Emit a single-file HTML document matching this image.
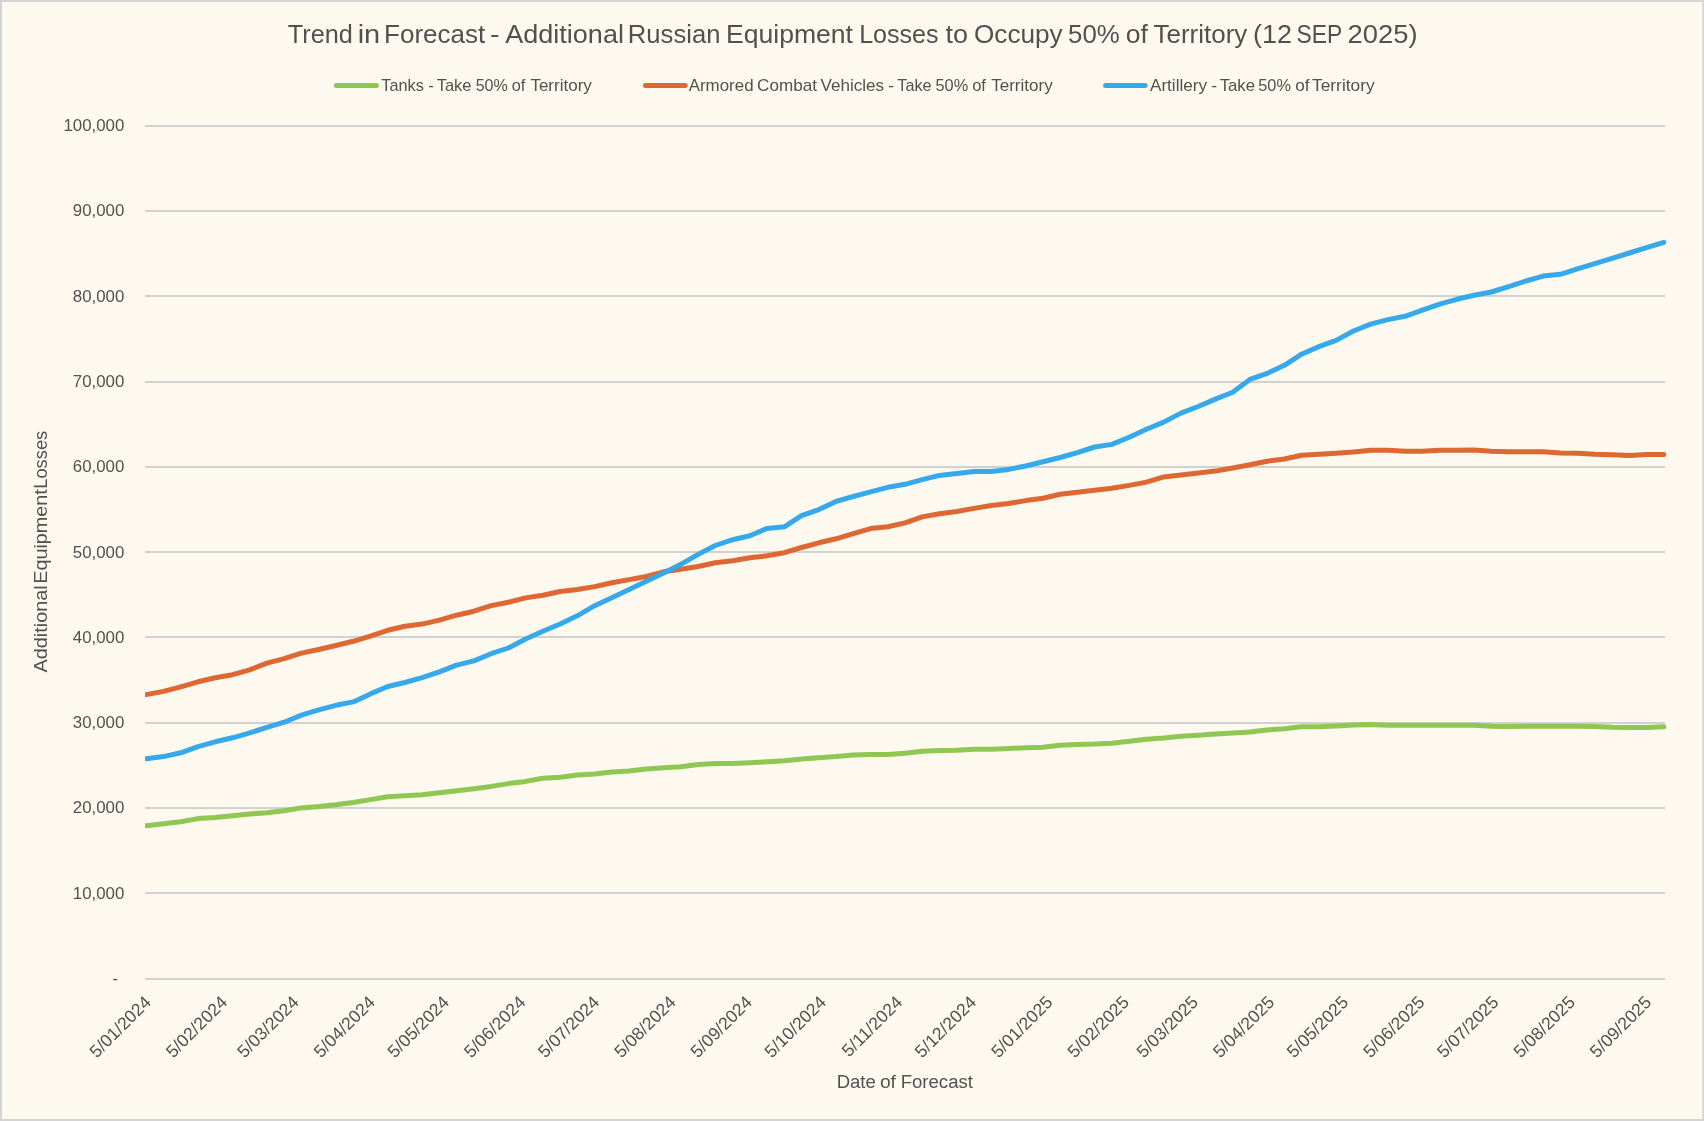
<!DOCTYPE html>
<html><head><meta charset="utf-8"><title>Trend in Forecast</title>
<style>
html,body{margin:0;padding:0;background:#fdf9ee;}
body{width:1704px;height:1121px;overflow:hidden;position:relative;font-family:"Liberation Sans",sans-serif;}
svg{position:absolute;left:0;top:0;display:block}
svg{will-change:transform}
text{font-family:"Liberation Sans",sans-serif;fill:#515151}
</style></head><body>
<svg width="1704" height="1121" viewBox="0 0 1704 1121">
<rect x="0" y="0" width="1704" height="1121" fill="#d4d4d4"/>
<rect x="2" y="2" width="1700.3" height="1117" fill="#fdf9ee"/>

<rect x="145" y="125" width="1520" height="2" fill="#d1d1d1"/>
<rect x="145" y="210" width="1520" height="2" fill="#d1d1d1"/>
<rect x="145" y="295" width="1520" height="2" fill="#d1d1d1"/>
<rect x="145" y="381" width="1520" height="2" fill="#d1d1d1"/>
<rect x="145" y="466" width="1520" height="2" fill="#d1d1d1"/>
<rect x="145" y="551" width="1520" height="2" fill="#d1d1d1"/>
<rect x="145" y="636" width="1520" height="2" fill="#d1d1d1"/>
<rect x="145" y="722" width="1520" height="2" fill="#d1d1d1"/>
<rect x="145" y="807" width="1520" height="2" fill="#d1d1d1"/>
<rect x="145" y="892" width="1520" height="2" fill="#d1d1d1"/>
<rect x="145" y="978" width="1520" height="2" fill="#d1d1d1"/>
<text x="287.87" y="42.7" font-size="26.2" textLength="65.05" lengthAdjust="spacingAndGlyphs">Trend</text>
<text x="357.65" y="42.7" font-size="26.2" textLength="22.58" lengthAdjust="spacingAndGlyphs">in</text>
<text x="384.03" y="42.7" font-size="26.2" textLength="101.25" lengthAdjust="spacingAndGlyphs">Forecast</text>
<text x="489.96" y="42.7" font-size="26.2" textLength="9.53" lengthAdjust="spacingAndGlyphs">-</text>
<text x="505.21" y="42.7" font-size="26.2" textLength="118.75" lengthAdjust="spacingAndGlyphs">Additional</text>
<text x="627.84" y="42.7" font-size="26.2" textLength="92.58" lengthAdjust="spacingAndGlyphs">Russian</text>
<text x="725.97" y="42.7" font-size="26.2" textLength="126.98" lengthAdjust="spacingAndGlyphs">Equipment</text>
<text x="859.15" y="42.7" font-size="26.2" textLength="79.46" lengthAdjust="spacingAndGlyphs">Losses</text>
<text x="945.49" y="42.7" font-size="26.2" textLength="22.5" lengthAdjust="spacingAndGlyphs">to</text>
<text x="974.0" y="42.7" font-size="26.2" textLength="88.63" lengthAdjust="spacingAndGlyphs">Occupy</text>
<text x="1068.04" y="42.7" font-size="26.2" textLength="51.63" lengthAdjust="spacingAndGlyphs">50%</text>
<text x="1125.7" y="42.7" font-size="26.2" textLength="22.17" lengthAdjust="spacingAndGlyphs">of</text>
<text x="1153.6" y="42.7" font-size="26.2" textLength="93.65" lengthAdjust="spacingAndGlyphs">Territory</text>
<text x="1253.07" y="42.7" font-size="26.2" textLength="39.02" lengthAdjust="spacingAndGlyphs">(12</text>
<text x="1296.58" y="42.7" font-size="26.2" textLength="45.81" lengthAdjust="spacingAndGlyphs">SEP</text>
<text x="1347.59" y="42.7" font-size="26.2" textLength="69.97" lengthAdjust="spacingAndGlyphs">2025)</text>
<line x1="336.40000000000003" x2="376.4" y1="85.5" y2="85.5" stroke="#8fc752" stroke-width="5.0" stroke-linecap="round"/>
<text x="381.28" y="90.8" font-size="17.0" textLength="42.62" lengthAdjust="spacingAndGlyphs">Tanks</text>
<text x="428.35" y="90.8" font-size="17.0" textLength="5.5" lengthAdjust="spacingAndGlyphs">-</text>
<text x="436.69" y="90.8" font-size="17.0" textLength="34.87" lengthAdjust="spacingAndGlyphs">Take</text>
<text x="475.69" y="90.8" font-size="17.0" textLength="32.16" lengthAdjust="spacingAndGlyphs">50%</text>
<text x="511.82" y="90.8" font-size="17.0" textLength="13.56" lengthAdjust="spacingAndGlyphs">of</text>
<text x="530.39" y="90.8" font-size="17.0" textLength="61.53" lengthAdjust="spacingAndGlyphs">Territory</text>
<line x1="645.4" x2="685.2" y1="85.5" y2="85.5" stroke="#de6732" stroke-width="5.0" stroke-linecap="round"/>
<text x="688.67" y="90.8" font-size="17.0" textLength="64.89" lengthAdjust="spacingAndGlyphs">Armored</text>
<text x="757.06" y="90.8" font-size="17.0" textLength="59.88" lengthAdjust="spacingAndGlyphs">Combat</text>
<text x="820.44" y="90.8" font-size="17.0" textLength="63.64" lengthAdjust="spacingAndGlyphs">Vehicles</text>
<text x="888.18" y="90.8" font-size="17.0" textLength="5.72" lengthAdjust="spacingAndGlyphs">-</text>
<text x="897.29" y="90.8" font-size="17.0" textLength="34.3" lengthAdjust="spacingAndGlyphs">Take</text>
<text x="935.47" y="90.8" font-size="17.0" textLength="32.69" lengthAdjust="spacingAndGlyphs">50%</text>
<text x="972.16" y="90.8" font-size="17.0" textLength="13.75" lengthAdjust="spacingAndGlyphs">of</text>
<text x="991.21" y="90.8" font-size="17.0" textLength="61.45" lengthAdjust="spacingAndGlyphs">Territory</text>
<line x1="1105.6" x2="1145.1000000000001" y1="85.5" y2="85.5" stroke="#35a9eb" stroke-width="5.0" stroke-linecap="round"/>
<text x="1149.97" y="90.8" font-size="17.0" textLength="57.13" lengthAdjust="spacingAndGlyphs">Artillery</text>
<text x="1211.19" y="90.8" font-size="17.0" textLength="5.89" lengthAdjust="spacingAndGlyphs">-</text>
<text x="1219.66" y="90.8" font-size="17.0" textLength="35.39" lengthAdjust="spacingAndGlyphs">Take</text>
<text x="1258.18" y="90.8" font-size="17.0" textLength="32.76" lengthAdjust="spacingAndGlyphs">50%</text>
<text x="1295.29" y="90.8" font-size="17.0" textLength="14.37" lengthAdjust="spacingAndGlyphs">of</text>
<text x="1312.04" y="90.8" font-size="17.0" textLength="62.63" lengthAdjust="spacingAndGlyphs">Territory</text>
<text x="124.3" y="131" font-size="16.85" text-anchor="end">100,000</text>
<text x="124.3" y="216" font-size="16.85" text-anchor="end">90,000</text>
<text x="124.3" y="302" font-size="16.85" text-anchor="end">80,000</text>
<text x="124.3" y="387" font-size="16.85" text-anchor="end">70,000</text>
<text x="124.3" y="472" font-size="16.85" text-anchor="end">60,000</text>
<text x="124.3" y="558" font-size="16.85" text-anchor="end">50,000</text>
<text x="124.3" y="643" font-size="16.85" text-anchor="end">40,000</text>
<text x="124.3" y="728" font-size="16.85" text-anchor="end">30,000</text>
<text x="124.3" y="813" font-size="16.85" text-anchor="end">20,000</text>
<text x="124.3" y="899" font-size="16.85" text-anchor="end">10,000</text>
<text x="112.4" y="984.00" font-size="16.6">-</text>
<text transform="translate(47.2,672.49) rotate(-90)" font-size="19.0" textLength="87.15" lengthAdjust="spacingAndGlyphs">Additional</text>
<text transform="translate(47.2,583.76) rotate(-90)" font-size="19.0" textLength="94.58" lengthAdjust="spacingAndGlyphs">Equipment</text>
<text transform="translate(47.2,488.82) rotate(-90)" font-size="19.0" textLength="58.11" lengthAdjust="spacingAndGlyphs">Losses</text>
<text x="836.65" y="1087.7" font-size="19.2" textLength="39.18" lengthAdjust="spacingAndGlyphs">Date</text>
<text x="879.88" y="1087.7" font-size="19.2" textLength="16.12" lengthAdjust="spacingAndGlyphs">of</text>
<text x="900.65" y="1087.7" font-size="19.2" textLength="72.31" lengthAdjust="spacingAndGlyphs">Forecast</text>
<text transform="translate(152.1,1003.3) rotate(-45)" font-size="17.6" text-anchor="end">5/01/2024</text>
<text transform="translate(228.5,1003.3) rotate(-45)" font-size="17.6" text-anchor="end">5/02/2024</text>
<text transform="translate(299.9,1003.3) rotate(-45)" font-size="17.6" text-anchor="end">5/03/2024</text>
<text transform="translate(376.3,1003.3) rotate(-45)" font-size="17.6" text-anchor="end">5/04/2024</text>
<text transform="translate(450.2,1003.3) rotate(-45)" font-size="17.6" text-anchor="end">5/05/2024</text>
<text transform="translate(526.6,1003.3) rotate(-45)" font-size="17.6" text-anchor="end">5/06/2024</text>
<text transform="translate(600.5,1003.3) rotate(-45)" font-size="17.6" text-anchor="end">5/07/2024</text>
<text transform="translate(676.9,1003.3) rotate(-45)" font-size="17.6" text-anchor="end">5/08/2024</text>
<text transform="translate(753.2,1003.3) rotate(-45)" font-size="17.6" text-anchor="end">5/09/2024</text>
<text transform="translate(827.1,1003.3) rotate(-45)" font-size="17.6" text-anchor="end">5/10/2024</text>
<text transform="translate(903.5,1003.3) rotate(-45)" font-size="17.6" text-anchor="end">5/11/2024</text>
<text transform="translate(977.4,1003.3) rotate(-45)" font-size="17.6" text-anchor="end">5/12/2024</text>
<text transform="translate(1053.8,1003.3) rotate(-45)" font-size="17.6" text-anchor="end">5/01/2025</text>
<text transform="translate(1130.2,1003.3) rotate(-45)" font-size="17.6" text-anchor="end">5/02/2025</text>
<text transform="translate(1199.1,1003.3) rotate(-45)" font-size="17.6" text-anchor="end">5/03/2025</text>
<text transform="translate(1275.5,1003.3) rotate(-45)" font-size="17.6" text-anchor="end">5/04/2025</text>
<text transform="translate(1349.4,1003.3) rotate(-45)" font-size="17.6" text-anchor="end">5/05/2025</text>
<text transform="translate(1425.8,1003.3) rotate(-45)" font-size="17.6" text-anchor="end">5/06/2025</text>
<text transform="translate(1499.7,1003.3) rotate(-45)" font-size="17.6" text-anchor="end">5/07/2025</text>
<text transform="translate(1576.1,1003.3) rotate(-45)" font-size="17.6" text-anchor="end">5/08/2025</text>
<text transform="translate(1652.4,1003.3) rotate(-45)" font-size="17.6" text-anchor="end">5/09/2025</text>
<defs><clipPath id="pc"><rect x="145" y="100" width="1540" height="900"/></clipPath></defs><g clip-path="url(#pc)">
<polyline fill="none" stroke="#8fc752" stroke-width="5.0" stroke-linejoin="round" stroke-linecap="round" points="146.2,825.7 163.5,823.7 180.7,821.7 198.0,818.6 215.2,817.4 232.5,815.7 249.7,813.9 266.9,812.8 284.2,810.7 301.4,807.9 318.7,806.5 335.9,804.7 353.2,802.5 370.4,799.6 387.7,796.7 404.9,795.8 422.1,794.7 439.4,792.7 456.6,790.7 473.9,788.7 491.1,786.4 508.4,783.6 525.6,781.4 542.9,778.3 560.1,777.2 577.3,775.1 594.6,774.0 611.8,772.0 629.1,770.9 646.3,768.9 663.6,767.8 680.8,766.7 698.1,764.4 715.3,763.6 732.6,763.6 749.8,762.7 767.0,761.8 784.3,760.7 801.5,758.9 818.8,757.8 836.0,756.6 853.3,754.9 870.5,754.5 887.8,754.5 905.0,753.3 922.2,751.3 939.5,750.4 956.7,750.2 974.0,749.3 991.2,749.3 1008.5,748.6 1025.7,747.7 1043.0,747.3 1060.2,745.3 1077.4,744.4 1094.7,744.1 1111.9,743.3 1129.2,741.2 1146.4,739.2 1163.7,738.1 1180.9,736.3 1198.2,735.2 1215.4,734.1 1232.7,733.1 1249.9,731.9 1267.1,729.9 1284.4,728.8 1301.6,726.8 1318.9,726.8 1336.1,725.9 1353.4,725.0 1370.6,724.5 1387.9,725.3 1405.1,725.3 1422.3,725.3 1439.6,725.3 1456.8,725.3 1474.1,725.3 1491.3,726.3 1508.6,726.4 1525.8,726.3 1543.1,726.3 1560.3,726.3 1577.5,726.3 1594.8,726.5 1612.0,727.3 1629.3,727.5 1646.5,727.4 1663.8,726.8"/>
<polyline fill="none" stroke="#de6732" stroke-width="5.0" stroke-linejoin="round" stroke-linecap="round" points="146.2,694.6 163.5,691.4 180.7,686.8 198.0,681.8 215.2,677.8 232.5,674.7 249.7,669.8 266.9,663.1 284.2,658.7 301.4,653.1 318.7,649.5 335.9,645.5 353.2,641.3 370.4,636.1 387.7,630.3 404.9,626.3 422.1,624.1 439.4,620.1 456.6,615.2 473.9,611.2 491.1,605.6 508.4,602.2 525.6,597.9 542.9,595.3 560.1,591.5 577.3,589.5 594.6,586.6 611.8,582.8 629.1,579.6 646.3,576.5 663.6,571.8 680.8,569.2 698.1,566.5 715.3,562.7 732.6,560.7 749.8,557.8 767.0,555.8 784.3,552.7 801.5,547.5 818.8,542.8 836.0,538.8 853.3,533.7 870.5,528.6 887.8,526.8 905.0,522.9 922.2,516.9 939.5,513.7 956.7,511.5 974.0,508.4 991.2,505.5 1008.5,503.5 1025.7,500.6 1043.0,498.3 1060.2,494.3 1077.4,492.3 1094.7,490.3 1111.9,488.3 1129.2,485.4 1146.4,482.1 1163.7,476.9 1180.9,474.9 1198.2,473.1 1215.4,471.1 1232.7,468.0 1249.9,464.8 1267.1,461.2 1284.4,459.0 1301.6,455.2 1318.9,454.3 1336.1,453.2 1353.4,451.9 1370.6,450.3 1387.9,450.3 1405.1,451.2 1422.3,451.2 1439.6,450.3 1456.8,450.3 1474.1,450.1 1491.3,451.2 1508.6,451.8 1525.8,451.8 1543.1,451.8 1560.3,453.0 1577.5,453.2 1594.8,454.3 1612.0,454.7 1629.3,455.6 1646.5,454.5 1663.8,454.5"/>
<polyline fill="none" stroke="#35a9eb" stroke-width="5.0" stroke-linejoin="round" stroke-linecap="round" points="146.2,758.8 163.5,756.6 180.7,752.8 198.0,746.7 215.2,741.8 232.5,737.8 249.7,732.9 266.9,727.3 284.2,722.2 301.4,715.1 318.7,709.9 335.9,705.3 353.2,701.9 370.4,693.9 387.7,686.5 404.9,682.5 422.1,677.6 439.4,671.8 456.6,665.1 473.9,660.9 491.1,653.7 508.4,648.0 525.6,639.0 542.9,631.2 560.1,624.0 577.3,615.8 594.6,605.7 611.8,597.7 629.1,589.5 646.3,581.2 663.6,573.0 680.8,564.3 698.1,554.4 715.3,545.5 732.6,539.7 749.8,535.7 767.0,528.4 784.3,526.8 801.5,515.6 818.8,509.6 836.0,501.4 853.3,496.5 870.5,491.8 887.8,487.3 905.0,484.3 922.2,479.6 939.5,475.4 956.7,473.4 974.0,471.4 991.2,471.4 1008.5,469.4 1025.7,466.0 1043.0,461.8 1060.2,457.5 1077.4,452.6 1094.7,447.0 1111.9,444.4 1129.2,437.2 1146.4,429.2 1163.7,422.1 1180.9,413.1 1198.2,406.5 1215.4,399.1 1232.7,392.2 1249.9,379.4 1267.1,373.4 1284.4,365.3 1301.6,354.2 1318.9,346.6 1336.1,340.4 1353.4,331.0 1370.6,324.1 1387.9,319.6 1405.1,316.3 1422.3,310.2 1439.6,304.2 1456.8,299.3 1474.1,295.3 1491.3,292.0 1508.6,286.7 1525.8,281.0 1543.1,276.1 1560.3,274.3 1577.5,268.9 1594.8,263.6 1612.0,258.3 1629.3,253.0 1646.5,247.7 1663.8,242.4"/>
</g></svg></body></html>
